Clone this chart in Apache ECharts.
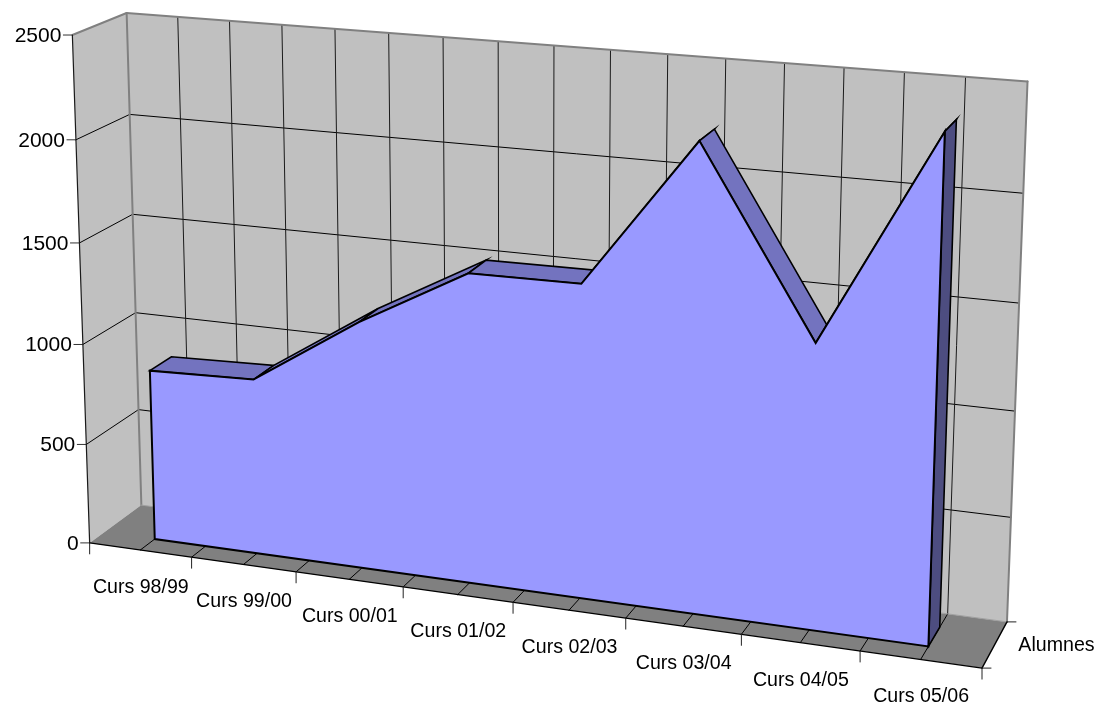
<!DOCTYPE html>
<html><head><meta charset="utf-8">
<style>html,body{margin:0;padding:0;background:#fff}#c{width:1099px;height:707px}</style>
<script src="https://cdn.jsdelivr.net/npm/echarts@6/dist/echarts.min.js"></script>
</head><body><div id="c"></div>
<script>
const categories = ['Curs 98/99','Curs 99/00','Curs 00/01','Curs 01/02','Curs 02/03','Curs 03/04','Curs 04/05','Curs 05/06'];
const alumnes = [853, 870, 1210, 1500, 1505, 2212, 1345, 2345];
const valueTicks = [0, 500, 1000, 1500, 2000, 2500];
const seriesName = 'Alumnes';

const FONT = 'Liberation Sans, Arial, sans-serif';
const FONT_SIZE = 19.6;
const VALUE_FONT_SIZE = 21;
const WALL = '#C0C0C0', FLOOR = '#808080', EDGE = '#808080', INK = '#000000';
const FACE = '#9999FF', TOP = '#7373BF', SIDE = '#4D4D80';
const D_FRONT = 0.28, D_BACK = 0.70;

// Perspective camera fitted to the corners of the chart box: [u, v, d] -> [px, py]
const boxCorners = [
  [0,0,0, 90,543],[0,1,0, 72,35],[0,1,1, 127,13],[0,0,1, 141,505],
  [1,1,1, 1027.5,81.5],[1,0,1, 1007,622],[1,0,0, 982,668]
];
function fitCamera(pts){
  const rows=[], rhs=[];
  pts.forEach(([X,Y,Z,x,y])=>{
    rows.push([X,Y,Z,1,0,0,0,0,-x*X,-x*Y,-x*Z]); rhs.push(x);
    rows.push([0,0,0,0,X,Y,Z,1,-y*X,-y*Y,-y*Z]); rhs.push(y);
  });
  const n=11, A=[];
  for(let i=0;i<n;i++){
    const r=new Array(n+1).fill(0);
    for(let j=0;j<n;j++) rows.forEach(w=>{r[j]+=w[i]*w[j];});
    rows.forEach((w,k)=>{r[n]+=w[i]*rhs[k];});
    A.push(r);
  }
  for(let i=0;i<n;i++){
    let m=i; for(let k=i+1;k<n;k++) if(Math.abs(A[k][i])>Math.abs(A[m][i])) m=k;
    [A[i],A[m]]=[A[m],A[i]];
    for(let k=0;k<n;k++){ if(k===i) continue; const f=A[k][i]/A[i][i];
      for(let j=i;j<=n;j++) A[k][j]-=f*A[i][j]; }
  }
  return A.map((r,i)=>r[n]/r[i]);
}
const P = fitCamera(boxCorners);
function cam(u,v,d){
  const w=P[8]*u+P[9]*v+P[10]*d+1;
  return [(P[0]*u+P[1]*v+P[2]*d+P[3])/w,(P[4]*u+P[5]*v+P[6]*d+P[7])/w];
}
function flatToUV(pt,cs){ return [(pt[0]-cs.x)/cs.width, 1-(pt[1]-cs.y)/cs.height]; }
function line(a,b,color,width){
  return {type:'line',shape:{x1:a[0],y1:a[1],x2:b[0],y2:b[1]},style:{stroke:color,lineWidth:width,lineCap:'round'},silent:true};
}
function poly(points,fill,stroke,width){
  return {type:'polygon',shape:{points},style:{fill,stroke:stroke||null,lineWidth:width||0,lineJoin:'miter'},silent:true};
}
function label(text,x,y,align,size){
  return {type:'text',x,y,style:{text,fill:INK,font:(size||FONT_SIZE)+'px '+FONT,align,verticalAlign:'middle'},silent:true};
}

function renderFrame(params,api){
  const cs=params.coordSys, kids=[], divs=categories.length*2;
  // walls and floor
  kids.push(poly([cam(0,0,1),cam(1,0,1),cam(1,1,1),cam(0,1,1)],WALL));
  kids.push(poly([cam(0,0,0),cam(0,1,0),cam(0,1,1),cam(0,0,1)],WALL));
  kids.push(poly([cam(0,0,0),cam(1,0,0),cam(1,0,1),cam(0,0,1)],FLOOR));
  // horizontal grid on both walls, value ticks and labels
  valueTicks.forEach(t=>{
    const v=flatToUV(api.coord([0,t]),cs)[1];
    const a=cam(0,v,0), b=cam(0,v,1), c=cam(1,v,1);
    if(t>0 && t<valueTicks[valueTicks.length-1]){ kids.push(line(a,b,INK,1)); kids.push(line(b,c,INK,1)); }
    kids.push(line([a[0]-9,a[1]],a,'#333333',1));
    kids.push(label(String(t),a[0]-11,a[1]+1,'right',VALUE_FONT_SIZE));
  });
  // vertical grid on the back wall, depth lines on the floor
  for(let k=1;k<divs;k++){
    const u=k/divs;
    kids.push(line(cam(u,0,1),cam(u,1,1),'#1a1a1a',1));
    kids.push(line(cam(u,0,0),cam(u,0,1),INK,1));
  }
  // box outline
  kids.push(line(cam(0,1,0),cam(0,1,1),EDGE,2));
  kids.push(line(cam(0,1,1),cam(1,1,1),EDGE,2));
  kids.push(line(cam(1,1,1),cam(1,0,1),EDGE,2));
  kids.push(line(cam(0,1,1),cam(0,0,1),EDGE,2));
  kids.push(line(cam(0,0,1),cam(1,0,1),'#A0A0A0',1));
  kids.push(line(cam(0,0,0),cam(0,1,0),'#1a1a1a',1.2));
  kids.push(line(cam(0,0,0),cam(1,0,0),INK,1.4));
  kids.push(line(cam(1,0,0),cam(1,0,1),INK,1.4));
  // category ticks
  for(let k=0;k<=divs;k+=2){
    const p=cam(k/divs,0,0);
    kids.push(line(p,[p[0],p[1]+11],'#222222',1));
  }
  // depth ticks and label
  const q0=cam(1,0,0), q1=cam(1,0,1);
  kids.push(line(q0,[q0[0]+9,q0[1]],'#222222',1));
  kids.push(line(q1,[q1[0]+9,q1[1]],'#222222',1));
  kids.push(label(seriesName,(q0[0]+q1[0])/2+62,(q0[1]+q1[1])/2+1,'center'));
  // category labels, under the middle of each band
  categories.forEach((c,i)=>{
    const uv=flatToUV(api.coord([i,0]),cs), p=cam(uv[0],0,0);
    kids.push(label(c,p[0]+0.5,p[1]+37.5,'center'));
  });
  return {type:'group',children:kids};
}

function renderArea(params,api){
  if(params.dataIndex!==0) return null;
  const cs=params.coordSys;
  const pts=categories.map((c,i)=>flatToUV(api.coord([i,alumnes[i]]),cs));
  const base=flatToUV(api.coord([0,0]),cs)[1];
  const kids=[];
  for(let i=0;i<pts.length-1;i++){
    const a=pts[i], b=pts[i+1];
    kids.push(poly([cam(a[0],a[1],D_FRONT),cam(b[0],b[1],D_FRONT),cam(b[0],b[1],D_BACK),cam(a[0],a[1],D_BACK)],TOP,INK,1.6));
  }
  const L=pts[pts.length-1];
  kids.push(poly([cam(L[0],base,D_FRONT),cam(L[0],L[1],D_FRONT),cam(L[0],L[1],D_BACK),cam(L[0],base,D_BACK)],SIDE,INK,1.6));
  const front=[cam(pts[0][0],base,D_FRONT)].concat(pts.map(p=>cam(p[0],p[1],D_FRONT)),[cam(L[0],base,D_FRONT)]);
  kids.push(poly(front,FACE,INK,2));
  return {type:'group',children:kids};
}

const chart=echarts.init(document.getElementById('c'),null,{renderer:'canvas',width:1099,height:707});
chart.setOption({
  animation:false,
  backgroundColor:'#FFFFFF',
  grid:{left:0,right:0,top:0,bottom:0,containLabel:false},
  xAxis:{type:'category',data:categories,boundaryGap:true,show:false},
  yAxis:{type:'value',min:0,max:2500,interval:500,show:false},
  series:[
    {type:'custom',name:'frame',coordinateSystem:'cartesian2d',clip:false,z:1,data:[[0,0]],encode:{x:0,y:1},renderItem:renderFrame,silent:true},
    {type:'custom',name:seriesName,coordinateSystem:'cartesian2d',clip:false,z:2,data:alumnes.map((v,i)=>[i,v]),encode:{x:0,y:1},renderItem:renderArea,silent:true}
  ]
});
</script></body></html>
